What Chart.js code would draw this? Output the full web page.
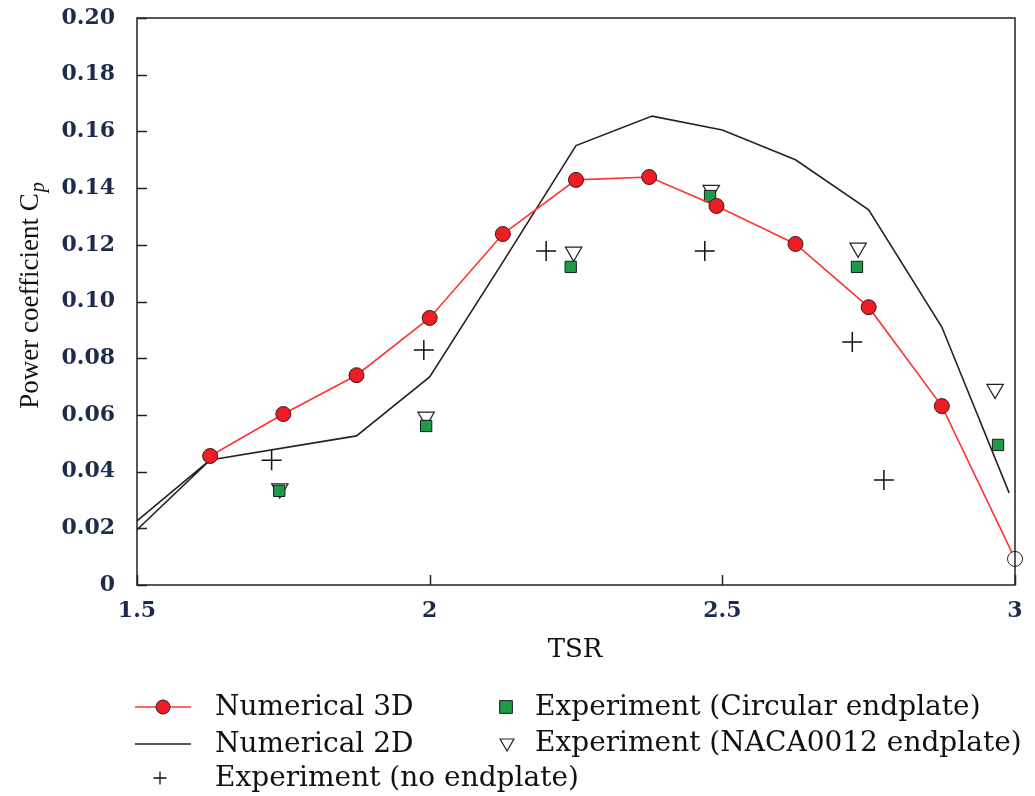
<!DOCTYPE html>
<html>
<head>
<meta charset="utf-8">
<script src="https://cdn.jsdelivr.net/npm/chart.js@4/dist/chart.umd.min.js"></script>
<style>
html,body{margin:0;padding:0;background:#fff;}
#wrap{width:1035px;height:796px;position:relative;}
</style>
</head>
<body>
<div id="wrap"><canvas id="c" width="1035" height="796"></canvas></div>
<script>
// ---- data ----
const num3dX = [1.625, 1.75, 1.875, 2.0, 2.125, 2.25, 2.375, 2.49, 2.625, 2.75, 2.875, 3.0];
const num3dY = [0.0455, 0.0603, 0.0740, 0.0942, 0.1238, 0.1429, 0.1439, 0.1337, 0.1203, 0.0980, 0.0631, 0.0092];
const num2dX = [1.5, 1.625, 1.5, 1.625, 1.875, 2.0, 2.125, 2.25, 2.38, 2.5, 2.625, 2.75, 2.875, 2.99];
const num2dY = [0.0226, 0.0441, 0.0195, 0.0441, 0.0526, 0.0734, 0.1139, 0.1550, 0.1654, 0.1605, 0.1500, 0.1323, 0.0910, 0.0325];
const noEndX = [1.73, 1.99, 2.199, 2.47, 2.722, 2.776];
const noEndY = [0.0440, 0.0829, 0.1178, 0.1178, 0.0857, 0.0370];
const circX = [1.743, 1.994, 2.241, 2.479, 2.73, 2.971];
const circY = [0.0332, 0.0561, 0.1122, 0.1372, 0.1122, 0.0494];
const nacaX = [1.744, 1.994, 2.246, 2.481, 2.732, 2.966];
const nacaY = [0.0340, 0.0593, 0.1175, 0.1393, 0.1189, 0.0691];
const xTicks = [1.5, 2, 2.5, 3];
const xTickLabels = ['1.5', '2', '2.5', '3'];
const yTicks = [0, 0.02, 0.04, 0.06, 0.08, 0.10, 0.12, 0.14, 0.16, 0.18, 0.20];
const yTickLabels = ['0', '0.02', '0.04', '0.06', '0.08', '0.10', '0.12', '0.14', '0.16', '0.18', '0.20'];
const seriesNames = ['Numerical 3D', 'Numerical 2D', 'Experiment (no endplate)', 'Experiment (Circular endplate)', 'Experiment (NACA0012 endplate)'];
const xTitle = 'TSR';
const yTitleMain = 'Power coefficient C';
const yTitleSub = 'p';

const pts = (xs, ys) => xs.map((x, i) => ({x: x, y: ys[i]}));

const RED = '#ee1c25';
const GREEN = '#1f9a48';
const TICKCOL = '#1d2b4c';

const framePlugin = {
  id: 'frame',
  afterDraw(chart) {
    const ctx = chart.ctx, a = chart.chartArea;
    const xs = chart.scales.x, ys = chart.scales.y;
    ctx.save();
    ctx.strokeStyle = '#222';
    ctx.lineWidth = 1.5;
    ctx.strokeRect(a.left, a.top, a.right - a.left, a.bottom - a.top);
    ctx.beginPath();
    yTicks.forEach(v => {
      const y = Math.round(ys.getPixelForValue(v)) + 0.5;
      ctx.moveTo(a.left, y); ctx.lineTo(a.left + 10, y);
    });
    xTicks.forEach(v => {
      const x = Math.round(xs.getPixelForValue(v)) + 0.5;
      ctx.moveTo(x, a.bottom); ctx.lineTo(x, a.bottom - 10);
    });
    ctx.stroke();

    ctx.fillStyle = '#111';
    ctx.font = '26px "DejaVu Serif"';
    ctx.textAlign = 'center';
    ctx.textBaseline = 'middle';
    ctx.fillText(xTitle, (a.left + a.right) / 2 - 1, 650);

    ctx.save();
    ctx.translate(30, 296);
    ctx.rotate(-Math.PI / 2);
    ctx.font = '27px "Liberation Serif"';
    const w1 = ctx.measureText(yTitleMain).width;
    ctx.font = 'italic 20px "Liberation Serif"';
    const w2 = ctx.measureText(yTitleSub).width;
    const start = -(w1 + w2) / 2;
    ctx.textAlign = 'left';
    ctx.textBaseline = 'alphabetic';
    ctx.font = '27px "Liberation Serif"';
    ctx.fillText(yTitleMain, start, 8);
    ctx.font = 'italic 20px "Liberation Serif"';
    ctx.fillText(yTitleSub, start + w1 + 1, 14);
    ctx.restore();

    // legend
    const ds = chart.data.datasets;
    const items = [
      {i: 0, sx: 163, tx: 215, y: 707},
      {i: 1, sx: 163, tx: 215, y: 744},
      {i: 2, sx: 160, tx: 215, y: 778},
      {i: 3, sx: 506, tx: 535, y: 707},
      {i: 4, sx: 507, tx: 535, y: 743}
    ];
    items.forEach(it => {
      const d = ds[it.i];
      if (d.showLine !== false) {
        ctx.strokeStyle = d.borderColor;
        ctx.lineWidth = d.borderWidth;
        ctx.beginPath();
        ctx.moveTo(it.sx - 28, it.y); ctx.lineTo(it.sx + 28, it.y);
        ctx.stroke();
      }
      if (d.legendMarker) {
        const m = d.legendMarker;
        ctx.fillStyle = m.fill; ctx.strokeStyle = m.stroke; ctx.lineWidth = m.bw;
        Chart.helpers.drawPoint(ctx, {
          pointStyle: m.style, radius: m.r, rotation: m.rot || 0, borderWidth: m.bw
        }, it.sx, it.y);
      }
      ctx.fillStyle = '#111';
      ctx.font = '28px "DejaVu Serif"';
      ctx.textAlign = 'left';
      ctx.textBaseline = 'middle';
      ctx.fillText(seriesNames[it.i], it.tx, it.y + 1);
    });
    ctx.restore();
  }
};

const ch = new Chart(document.getElementById('c'), {
  type: 'scatter',
  data: {
    datasets: [
      {
        label: seriesNames[0], data: pts(num3dX, num3dY), showLine: true,
        borderColor: '#ff3333', borderWidth: 1.6,
        pointRadius: 7.5, pointHoverRadius: 7.5,
        pointBackgroundColor: num3dX.map((x, i) => i === num3dX.length - 1 ? '#ffffff' : RED),
        pointBorderColor: '#3a1a1a', pointBorderWidth: 1,
        clip: false, order: 1,
        legendMarker: {style: 'circle', r: 7, fill: RED, stroke: '#3a1a1a', bw: 1}
      },
      {
        label: seriesNames[1], data: pts(num2dX, num2dY), showLine: true,
        borderColor: '#222222', borderWidth: 1.6, pointRadius: 0, pointHoverRadius: 0,
        clip: false, order: 5
      },
      {
        label: seriesNames[2], data: pts(noEndX, noEndY), showLine: false,
        pointStyle: 'cross', pointRadius: 10, pointHoverRadius: 10,
        pointBorderColor: '#111', pointBorderWidth: 1.5, pointBackgroundColor: '#111',
        order: 4,
        legendMarker: {style: 'cross', r: 6.5, fill: '#111', stroke: '#111', bw: 1.3}
      },
      {
        label: seriesNames[3], data: pts(circX, circY), showLine: false,
        pointStyle: 'rect', pointRadius: 8, pointHoverRadius: 8,
        pointBackgroundColor: GREEN, pointBorderColor: '#1a1a1a', pointBorderWidth: 1,
        order: 2,
        legendMarker: {style: 'rect', r: 9, fill: GREEN, stroke: '#1a1a1a', bw: 1}
      },
      {
        label: seriesNames[4], data: pts(nacaX, nacaY), showLine: false,
        pointStyle: 'triangle', pointRotation: 180, pointRadius: 9.5, pointHoverRadius: 9.5,
        pointBackgroundColor: '#ffffff', pointBorderColor: '#222', pointBorderWidth: 1.2,
        order: 3,
        legendMarker: {style: 'triangle', r: 8, rot: 180, fill: '#ffffff', stroke: '#222', bw: 1.2}
      }
    ]
  },
  options: {
    responsive: false,
    animation: false,
    events: [],
    layout: {padding: {left: 0, right: 20, top: 18, bottom: 0}},
    plugins: {legend: {display: false}, tooltip: {enabled: false}},
    scales: {
      x: {
        type: 'linear', min: 1.5, max: 3,
        grid: {display: false},
        border: {display: false},
        afterBuildTicks: s => { s.ticks = xTicks.map(v => ({value: v})); },
        afterFit: s => { s.height = 211; },
        ticks: {
          autoSkip: false, maxRotation: 0, padding: 5,
          color: TICKCOL, font: {family: 'DejaVu Serif', size: 22, weight: 'bold'},
          callback: v => xTickLabels[xTicks.indexOf(v)]
        }
      },
      y: {
        type: 'linear', min: 0, max: 0.2,
        grid: {display: false},
        border: {display: false},
        afterBuildTicks: s => { s.ticks = yTicks.map(v => ({value: v})); },
        afterFit: s => { s.width = 137; },
        ticks: {
          autoSkip: false, padding: 14,
          color: TICKCOL, font: {family: 'DejaVu Serif', size: 22, weight: 'bold', lineHeight: 0.3},
          callback: v => { const k = yTicks.findIndex(t => Math.abs(t - v) < 1e-9); return yTickLabels[k]; }
        }
      }
    }
  },
  plugins: [framePlugin]
});
</script>
</body>
</html>
